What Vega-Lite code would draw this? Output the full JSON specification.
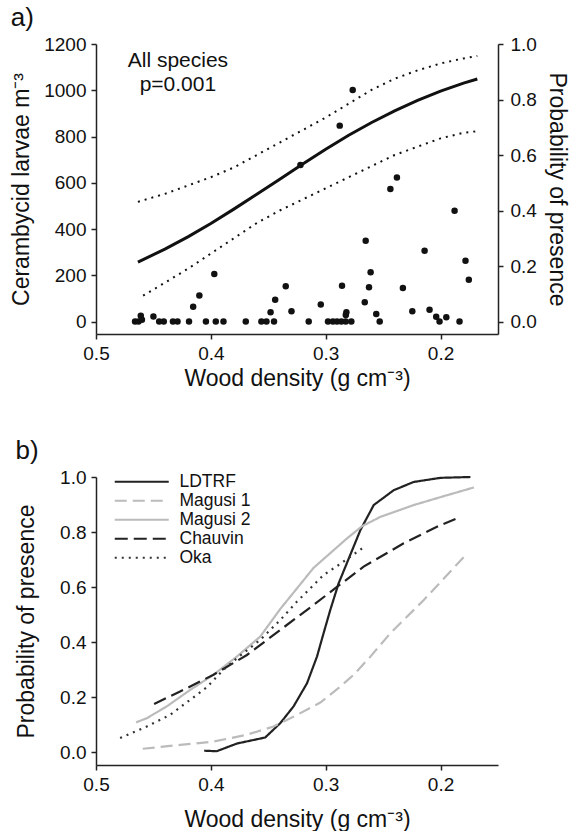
{
  "$schema": "https://vega.github.io/schema/vega-lite/v6.json",
  "padding": {"left": 10, "top": 5, "right": 4, "bottom": 0},
  "spacing": 48,
  "config": {
    "font": "Liberation Sans",
    "view": {"stroke": null},
    "axis": {
      "grid": false,
      "domainColor": "#222",
      "domainWidth": 1.5,
      "tickColor": "#222",
      "tickWidth": 1.5,
      "tickSize": 5,
      "labelFont": "Liberation Sans",
      "labelFontSize": 19,
      "labelColor": "#111",
      "labelPadding": 5,
      "labelFlush": false,
      "titleFont": "Liberation Sans",
      "titleFontSize": 23,
      "titleFontWeight": "normal",
      "titleColor": "#111",
      "titlePadding": 4
    },
    "axisX": {"labelFlush": false},
    "title": {"font": "Liberation Sans", "fontSize": 26, "fontWeight": "normal", "color": "#111", "anchor": "start", "frame": "bounds", "offset": 4},
    "legend": {
      "symbolType": "M-3.857,0H3.857",
      "symbolStrokeWidth": 2.2,
      "symbolSize": 196,
      "labelFont": "Liberation Sans",
      "labelFontSize": 17.5,
      "labelColor": "#111",
      "rowPadding": 0,
      "labelOffset": 29,
      "padding": 0
    }
  },
  "resolve": {"scale": {"color": "independent", "strokeDash": "independent"}, "legend": {"color": "independent", "strokeDash": "independent"}},
  "datasets": {
    "points": [
      {"density": 0.466, "larvae": 0}, {"density": 0.463, "larvae": 0}, {"density": 0.461, "larvae": 25}, {"density": 0.460, "larvae": 8},
      {"density": 0.450, "larvae": 22}, {"density": 0.445, "larvae": 0}, {"density": 0.441, "larvae": 0}, {"density": 0.433, "larvae": 0},
      {"density": 0.429, "larvae": 0}, {"density": 0.419, "larvae": 0}, {"density": 0.4154, "larvae": 64}, {"density": 0.410, "larvae": 112},
      {"density": 0.4043, "larvae": 0}, {"density": 0.397, "larvae": 205}, {"density": 0.3957, "larvae": 0}, {"density": 0.389, "larvae": 0},
      {"density": 0.3696, "larvae": 0}, {"density": 0.356, "larvae": 0}, {"density": 0.3516, "larvae": 0}, {"density": 0.348, "larvae": 40},
      {"density": 0.345, "larvae": 0}, {"density": 0.344, "larvae": 94}, {"density": 0.3348, "larvae": 152}, {"density": 0.3298, "larvae": 44},
      {"density": 0.3148, "larvae": 0}, {"density": 0.3043, "larvae": 74}, {"density": 0.298, "larvae": 0}, {"density": 0.2937, "larvae": 0},
      {"density": 0.2902, "larvae": 0}, {"density": 0.2864, "larvae": 0}, {"density": 0.2826, "larvae": 0}, {"density": 0.2777, "larvae": 0},
      {"density": 0.2858, "larvae": 155}, {"density": 0.282, "larvae": 40}, {"density": 0.2825, "larvae": 28}, {"density": 0.2652, "larvae": 349},
      {"density": 0.266, "larvae": 83}, {"density": 0.2623, "larvae": 148}, {"density": 0.2609, "larvae": 213}, {"density": 0.256, "larvae": 32},
      {"density": 0.253, "larvae": 0}, {"density": 0.2437, "larvae": 573}, {"density": 0.238, "larvae": 623}, {"density": 0.2328, "larvae": 145},
      {"density": 0.2246, "larvae": 44}, {"density": 0.2139, "larvae": 306}, {"density": 0.2096, "larvae": 51}, {"density": 0.2038, "larvae": 21},
      {"density": 0.2009, "larvae": 0}, {"density": 0.195, "larvae": 18}, {"density": 0.1878, "larvae": 479}, {"density": 0.1835, "larvae": 0},
      {"density": 0.1783, "larvae": 263}, {"density": 0.1754, "larvae": 181}, {"density": 0.2878, "larvae": 847}, {"density": 0.2765, "larvae": 1001},
      {"density": 0.322, "larvae": 677}
    ],
    "notes": [
      {"density": 0.4287, "larvae": 1100, "label": "All species"},
      {"density": 0.4287, "larvae": 995, "label": "p=0.001"}
    ],
    "fitA": [
      {"density": 0.4635, "p": 0.214}, {"density": 0.44, "p": 0.261}, {"density": 0.42, "p": 0.305},
      {"density": 0.40, "p": 0.353}, {"density": 0.38, "p": 0.405}, {"density": 0.36, "p": 0.459},
      {"density": 0.34, "p": 0.513}, {"density": 0.32, "p": 0.568}, {"density": 0.30, "p": 0.621},
      {"density": 0.28, "p": 0.671}, {"density": 0.26, "p": 0.717}, {"density": 0.24, "p": 0.759},
      {"density": 0.22, "p": 0.797}, {"density": 0.20, "p": 0.830}, {"density": 0.18, "p": 0.859},
      {"density": 0.168, "p": 0.874}
    ],
    "bandsA": [
      {"density": 0.4635, "p": 0.431, "band": "upper"}, {"density": 0.44, "p": 0.46, "band": "upper"}, {"density": 0.42, "p": 0.49, "band": "upper"},
      {"density": 0.40, "p": 0.52, "band": "upper"}, {"density": 0.38, "p": 0.555, "band": "upper"}, {"density": 0.36, "p": 0.60, "band": "upper"},
      {"density": 0.34, "p": 0.645, "band": "upper"}, {"density": 0.32, "p": 0.69, "band": "upper"}, {"density": 0.30, "p": 0.735, "band": "upper"},
      {"density": 0.28, "p": 0.785, "band": "upper"}, {"density": 0.26, "p": 0.835, "band": "upper"}, {"density": 0.24, "p": 0.875, "band": "upper"},
      {"density": 0.22, "p": 0.905, "band": "upper"}, {"density": 0.20, "p": 0.93, "band": "upper"}, {"density": 0.18, "p": 0.948, "band": "upper"},
      {"density": 0.168, "p": 0.957, "band": "upper"},
      {"density": 0.459, "p": 0.093, "band": "lower"}, {"density": 0.44, "p": 0.14, "band": "lower"}, {"density": 0.42, "p": 0.19, "band": "lower"},
      {"density": 0.40, "p": 0.245, "band": "lower"}, {"density": 0.38, "p": 0.30, "band": "lower"}, {"density": 0.36, "p": 0.355, "band": "lower"},
      {"density": 0.34, "p": 0.40, "band": "lower"}, {"density": 0.32, "p": 0.44, "band": "lower"}, {"density": 0.30, "p": 0.48, "band": "lower"},
      {"density": 0.28, "p": 0.52, "band": "lower"}, {"density": 0.26, "p": 0.56, "band": "lower"}, {"density": 0.24, "p": 0.60, "band": "lower"},
      {"density": 0.22, "p": 0.63, "band": "lower"}, {"density": 0.20, "p": 0.66, "band": "lower"}, {"density": 0.18, "p": 0.68, "band": "lower"},
      {"density": 0.168, "p": 0.686, "band": "lower"}
    ],
    "curvesB": [
      {"density": 0.4058, "p": 0.005, "series": "LDTRF"}, {"density": 0.395, "p": 0.003, "series": "LDTRF"}, {"density": 0.3773, "p": 0.031, "series": "LDTRF"},
      {"density": 0.3527, "p": 0.053, "series": "LDTRF"}, {"density": 0.3396, "p": 0.105, "series": "LDTRF"}, {"density": 0.328, "p": 0.166, "series": "LDTRF"},
      {"density": 0.3163, "p": 0.25, "series": "LDTRF"}, {"density": 0.3076, "p": 0.347, "series": "LDTRF"}, {"density": 0.302, "p": 0.43, "series": "LDTRF"},
      {"density": 0.296, "p": 0.517, "series": "LDTRF"}, {"density": 0.2888, "p": 0.613, "series": "LDTRF"}, {"density": 0.2698, "p": 0.807, "series": "LDTRF"},
      {"density": 0.2582, "p": 0.898, "series": "LDTRF"}, {"density": 0.2408, "p": 0.952, "series": "LDTRF"}, {"density": 0.2234, "p": 0.982, "series": "LDTRF"},
      {"density": 0.20, "p": 0.997, "series": "LDTRF"}, {"density": 0.174, "p": 1.0, "series": "LDTRF"},
      {"density": 0.4593, "p": 0.012, "series": "Magusi 1"}, {"density": 0.4268, "p": 0.026, "series": "Magusi 1"}, {"density": 0.3977, "p": 0.038, "series": "Magusi 1"},
      {"density": 0.3686, "p": 0.063, "series": "Magusi 1"}, {"density": 0.3454, "p": 0.093, "series": "Magusi 1"}, {"density": 0.325, "p": 0.135, "series": "Magusi 1"},
      {"density": 0.3047, "p": 0.18, "series": "Magusi 1"}, {"density": 0.2873, "p": 0.238, "series": "Magusi 1"}, {"density": 0.2757, "p": 0.281, "series": "Magusi 1"},
      {"density": 0.2611, "p": 0.347, "series": "Magusi 1"}, {"density": 0.2437, "p": 0.432, "series": "Magusi 1"}, {"density": 0.2146, "p": 0.553, "series": "Magusi 1"},
      {"density": 0.1768, "p": 0.722, "series": "Magusi 1"},
      {"density": 0.4651, "p": 0.108, "series": "Magusi 2"}, {"density": 0.4558, "p": 0.123, "series": "Magusi 2"}, {"density": 0.4384, "p": 0.166, "series": "Magusi 2"},
      {"density": 0.418, "p": 0.226, "series": "Magusi 2"}, {"density": 0.3977, "p": 0.281, "series": "Magusi 2"}, {"density": 0.3774, "p": 0.347, "series": "Magusi 2"},
      {"density": 0.357, "p": 0.42, "series": "Magusi 2"}, {"density": 0.3396, "p": 0.52, "series": "Magusi 2"}, {"density": 0.3105, "p": 0.67, "series": "Magusi 2"},
      {"density": 0.2814, "p": 0.777, "series": "Magusi 2"}, {"density": 0.2684, "p": 0.821, "series": "Magusi 2"}, {"density": 0.2524, "p": 0.855, "series": "Magusi 2"},
      {"density": 0.2234, "p": 0.898, "series": "Magusi 2"}, {"density": 0.1942, "p": 0.934, "series": "Magusi 2"}, {"density": 0.171, "p": 0.962, "series": "Magusi 2"},
      {"density": 0.4494, "p": 0.175, "series": "Chauvin"}, {"density": 0.4268, "p": 0.22, "series": "Chauvin"}, {"density": 0.3977, "p": 0.281, "series": "Chauvin"},
      {"density": 0.3686, "p": 0.353, "series": "Chauvin"}, {"density": 0.3396, "p": 0.444, "series": "Chauvin"}, {"density": 0.3105, "p": 0.535, "series": "Chauvin"},
      {"density": 0.2888, "p": 0.605, "series": "Chauvin"}, {"density": 0.267, "p": 0.674, "series": "Chauvin"}, {"density": 0.2321, "p": 0.759, "series": "Chauvin"},
      {"density": 0.2001, "p": 0.825, "series": "Chauvin"}, {"density": 0.1827, "p": 0.855, "series": "Chauvin"},
      {"density": 0.479, "p": 0.051, "series": "Oka"}, {"density": 0.4558, "p": 0.093, "series": "Oka"}, {"density": 0.4355, "p": 0.135, "series": "Oka"},
      {"density": 0.418, "p": 0.19, "series": "Oka"}, {"density": 0.4035, "p": 0.236, "series": "Oka"}, {"density": 0.389, "p": 0.299, "series": "Oka"},
      {"density": 0.3773, "p": 0.341, "series": "Oka"}, {"density": 0.357, "p": 0.408, "series": "Oka"}, {"density": 0.3396, "p": 0.48, "series": "Oka"},
      {"density": 0.325, "p": 0.547, "series": "Oka"}, {"density": 0.3018, "p": 0.644, "series": "Oka"}, {"density": 0.2888, "p": 0.68, "series": "Oka"},
      {"density": 0.2684, "p": 0.74, "series": "Oka"}
    ]
  },
  "vconcat": [
    {
      "width": 402,
      "height": 290,
      "title": {"text": "a)"},
      "layer": [
        {
          "data": {"name": "points"},
          "mark": {"type": "circle", "size": 42, "color": "#111", "opacity": 1},
          "encoding": {
            "x": {"field": "density", "type": "quantitative",
                  "scale": {"domain": [0.15, 0.5], "reverse": true, "nice": false, "zero": false},
                  "axis": {"values": [0.5, 0.4, 0.3, 0.2], "format": ".1f", "title": "Wood density (g cm⁻³)", "labelFlush": false}},
            "y": {"field": "larvae", "type": "quantitative",
                  "scale": {"domain": [-54, 1200], "nice": false, "zero": false},
                  "axis": {"orient": "left", "values": [0, 200, 400, 600, 800, 1000, 1200], "format": "d", "title": "Cerambycid larvae m⁻³", "titlePadding": 10}}
          }
        },
        {
          "data": {"name": "notes"},
          "mark": {"type": "text", "fontSize": 21, "align": "center", "baseline": "alphabetic", "color": "#111"},
          "encoding": {
            "x": {"field": "density", "type": "quantitative", "axis": {"title": "Wood density (g cm⁻³)", "labelFlush": false}},
            "y": {"field": "larvae", "type": "quantitative", "scale": {"domain": [-54, 1200], "nice": false, "zero": false}, "axis": null},
            "text": {"field": "label"}
          }
        },
        {
          "layer": [
            {
              "data": {"name": "bandsA"},
              "mark": {"type": "line", "color": "#111", "strokeWidth": 2, "strokeDash": [2, 5]},
              "encoding": {
                "x": {"field": "density", "type": "quantitative", "axis": {"title": "Wood density (g cm⁻³)", "labelFlush": false}},
                "y": {"field": "p", "type": "quantitative"},
                "detail": {"field": "band", "type": "nominal"}
              }
            },
            {
              "data": {"name": "fitA"},
              "mark": {"type": "line", "color": "#111", "strokeWidth": 3},
              "encoding": {
                "x": {"field": "density", "type": "quantitative", "axis": {"title": "Wood density (g cm⁻³)", "labelFlush": false}},
                "y": {"field": "p", "type": "quantitative",
                      "scale": {"domain": [-0.045, 1.0], "nice": false, "zero": false},
                      "axis": {"orient": "right", "values": [0, 0.2, 0.4, 0.6, 0.8, 1.0], "format": ".1f", "title": "Probability of presence", "titlePadding": 8, "labelPadding": 7}}
              }
            }
          ]
        }
      ],
      "resolve": {"scale": {"y": "independent"}}
    },
    {
      "width": 402,
      "height": 288,
      "title": {"text": "b)"},
      "data": {"name": "curvesB"},
      "mark": {"type": "line", "strokeWidth": 2.2},
      "encoding": {
        "x": {"field": "density", "type": "quantitative",
              "scale": {"domain": [0.15, 0.5], "reverse": true, "nice": false, "zero": false},
              "axis": {"values": [0.5, 0.4, 0.3, 0.2], "format": ".1f", "title": "Wood density (g cm⁻³)", "titlePadding": 14, "labelFlush": false}},
        "y": {"field": "p", "type": "quantitative",
              "scale": {"domain": [-0.047, 1.0], "nice": false, "zero": false},
              "axis": {"values": [0, 0.2, 0.4, 0.6, 0.8, 1.0], "format": ".1f", "title": "Probability of presence", "titlePadding": 21}},
        "color": {"field": "series", "type": "nominal",
                  "scale": {"domain": ["LDTRF", "Magusi 1", "Magusi 2", "Chauvin", "Oka"], "range": ["#222222", "#bbbbbb", "#bbbbbb", "#222222", "#333333"]},
                  "legend": {"title": null, "orient": "none", "legendX": 37, "legendY": -4}},
        "strokeDash": {"field": "series", "type": "nominal",
                  "scale": {"domain": ["LDTRF", "Magusi 1", "Magusi 2", "Chauvin", "Oka"], "range": [[1, 0], [12, 6], [1, 0], [13, 6], [2, 5]]},
                  "legend": {"title": null, "orient": "none", "legendX": 37, "legendY": -4}}
      }
    }
  ]
}
